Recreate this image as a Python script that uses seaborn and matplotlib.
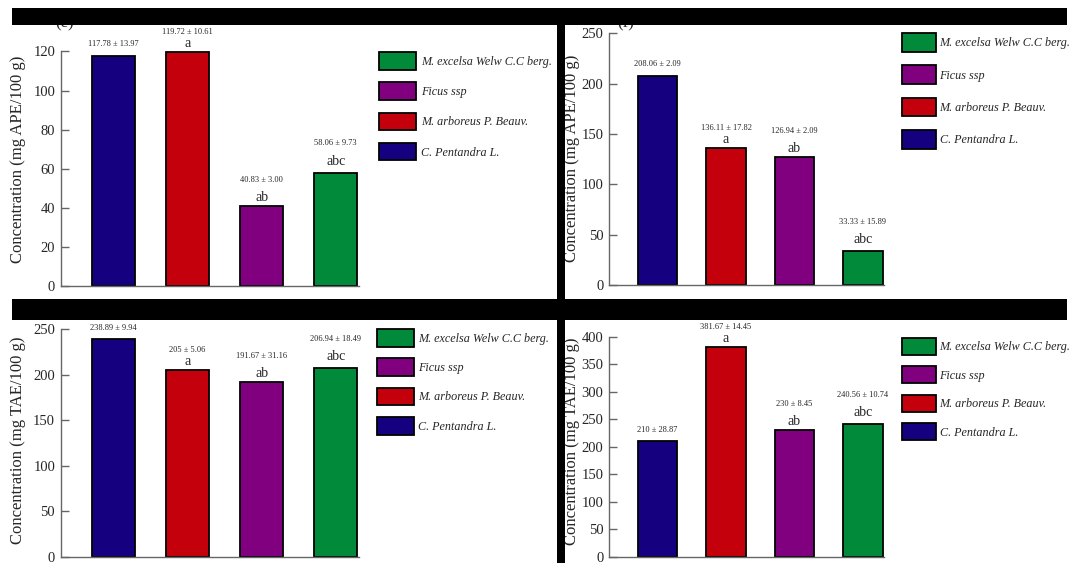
import matplotlib
matplotlib.use("Agg")
import matplotlib.pyplot as plt
from matplotlib.patches import Patch, Rectangle
import seaborn as sns
import pandas as pd

# ---------------- data ----------------
species = ["C. Pentandra L.", "M. arboreus P. Beauv.", "Ficus ssp", "M. excelsa Welw C.C berg."]
legend_order = ["M. excelsa Welw C.C berg.", "Ficus ssp", "M. arboreus P. Beauv.", "C. Pentandra L."]
letters = ["", "a", "ab", "abc"]

e_mean = [117.78, 119.72, 40.83, 58.06]
e_sd = [13.97, 10.61, 3.00, 9.73]
f_mean = [208.06, 136.11, 126.94, 33.33]
f_sd = [2.09, 17.82, 2.09, 15.89]
g_mean = [238.89, 205, 191.67, 206.94]
g_sd = [9.94, 5.06, 31.16, 18.49]
h_mean = [210, 381.67, 230, 240.56]
h_sd = [28.87, 14.45, 8.45, 10.74]

ape_label = "Concentration (mg APE/100 g)"
tae_label = "Concentration (mg TAE/100 g)"

# ---------------- style ----------------
palette = {
    "C. Pentandra L.": "#150080",
    "M. arboreus P. Beauv.": "#c4000c",
    "Ficus ssp": "#800080",
    "M. excelsa Welw C.C berg.": "#008a3a",
}
# (letter baseline offset, value baseline offset) in pixels above bar top
OFFS = {"": (0, 9.5), "a": (5, 18), "ab": (5, 24), "abc": (8, 27.5)}

sns.set_style("white")
plt.rcParams["font.family"] = ["Liberation Serif", "DejaVu Serif"]

W, H = 1080, 563
fig = plt.figure(figsize=(W / 100, H / 100), dpi=100)
fig.patch.set_facecolor("white")


def panel(rect, means, sds, ymax, ystep, ylabel, ylab_xy, leg):
    left, top, width, height = rect
    ax = fig.add_axes([left / W, 1 - (top + height) / H, width / W, height / H])
    df = pd.DataFrame({"species": species, "value": means})
    sns.barplot(data=df, x="species", y="value", hue="species", order=species,
                hue_order=species, palette=palette, saturation=1, width=0.58,
                edgecolor="black", linewidth=1.3, legend=False, ax=ax)
    ax.set_xlim(-0.71, 3.31)
    ax.set_ylim(0, ymax)
    ax.set_yticks(range(0, ymax + 1, ystep))
    ax.set_xticks([])
    ax.set_xlabel("")
    for sp in ("top", "right"):
        ax.spines[sp].set_visible(False)
    for sp in ("left", "bottom"):
        ax.spines[sp].set_color("#666666")
        ax.spines[sp].set_linewidth(1.0)
    ax.tick_params(axis="y", direction="in", length=6, width=1.0, color="#666666",
                   pad=4, labelsize=10.5, left=True)
    ax.set_ylabel(ylabel, fontsize=12)
    ax.yaxis.set_label_coords(*ylab_xy)
    ax.set_facecolor("white")

    for i, (m, s, lt) in enumerate(zip(means, sds, letters)):
        lo, vo = OFFS[lt]
        if lt:
            ax.annotate(lt, (i, m), xytext=(0, lo), textcoords="offset pixels",
                        ha="center", va="baseline", fontsize=10, annotation_clip=False)
        ax.annotate(f"{m:g} ± {s:.2f}", (i, m), xytext=(0, vo), textcoords="offset pixels",
                    ha="center", va="baseline", fontsize=6, annotation_clip=False)

    lx, ly, pw, ph, pitch, tpad = leg
    fs = 8.7
    fpx = fs * 100 / 72
    handles = [Patch(facecolor=palette[n], edgecolor="black", linewidth=1.3, label=n)
               for n in legend_order]
    ax.legend(handles=handles, loc="upper left", bbox_to_anchor=(lx / W, 1 - ly / H),
              bbox_transform=fig.transFigure, frameon=False, borderpad=0, borderaxespad=0,
              handlelength=pw / fpx, handleheight=ph / fpx, labelspacing=(pitch - ph) / fpx,
              handletextpad=tpad / fpx, prop=dict(family="Liberation Serif", style="italic", size=fs))
    return ax


panel((60.7, 51.5, 298, 234.5), e_mean, e_sd, 120, 20, ape_label, (-0.118, 0.54),
      (378.6, 52, 37.4, 22.5, 35.2, 4.7))
panel((609, 33.3, 275, 251.7), f_mean, f_sd, 250, 50, ape_label, (-0.104, 0.505),
      (901.6, 33, 34.4, 24.5, 37.9, 3.5))
panel((60.7, 329, 298, 227.7), g_mean, g_sd, 250, 50, tae_label, (-0.118, 0.51),
      (377, 329, 37, 22.5, 34.3, 4.5))
panel((609, 336.7, 275, 220), h_mean, h_sd, 400, 50, tae_label, (-0.104, 0.526),
      (901.6, 338, 34.4, 21.5, 33, 3.5))

# panel letters partly hidden under the black bands
fig.text(65 / W, 1 - 27 / H, "(e)", ha="center", va="baseline", fontsize=12, zorder=5)
fig.text(626 / W, 1 - 27 / H, "(f)", ha="center", va="baseline", fontsize=12, zorder=5)

# black frame bands
def band(x0, y0, x1, y1):
    fig.add_artist(Rectangle((x0 / W, 1 - y1 / H), (x1 - x0) / W, (y1 - y0) / H,
                             transform=fig.transFigure, facecolor="black",
                             edgecolor="none", zorder=10))

band(12, 8, 1067, 25)
band(12, 299, 1067, 320)
band(557, 25, 564.5, 563)

fig.savefig("out.png", dpi=100)
